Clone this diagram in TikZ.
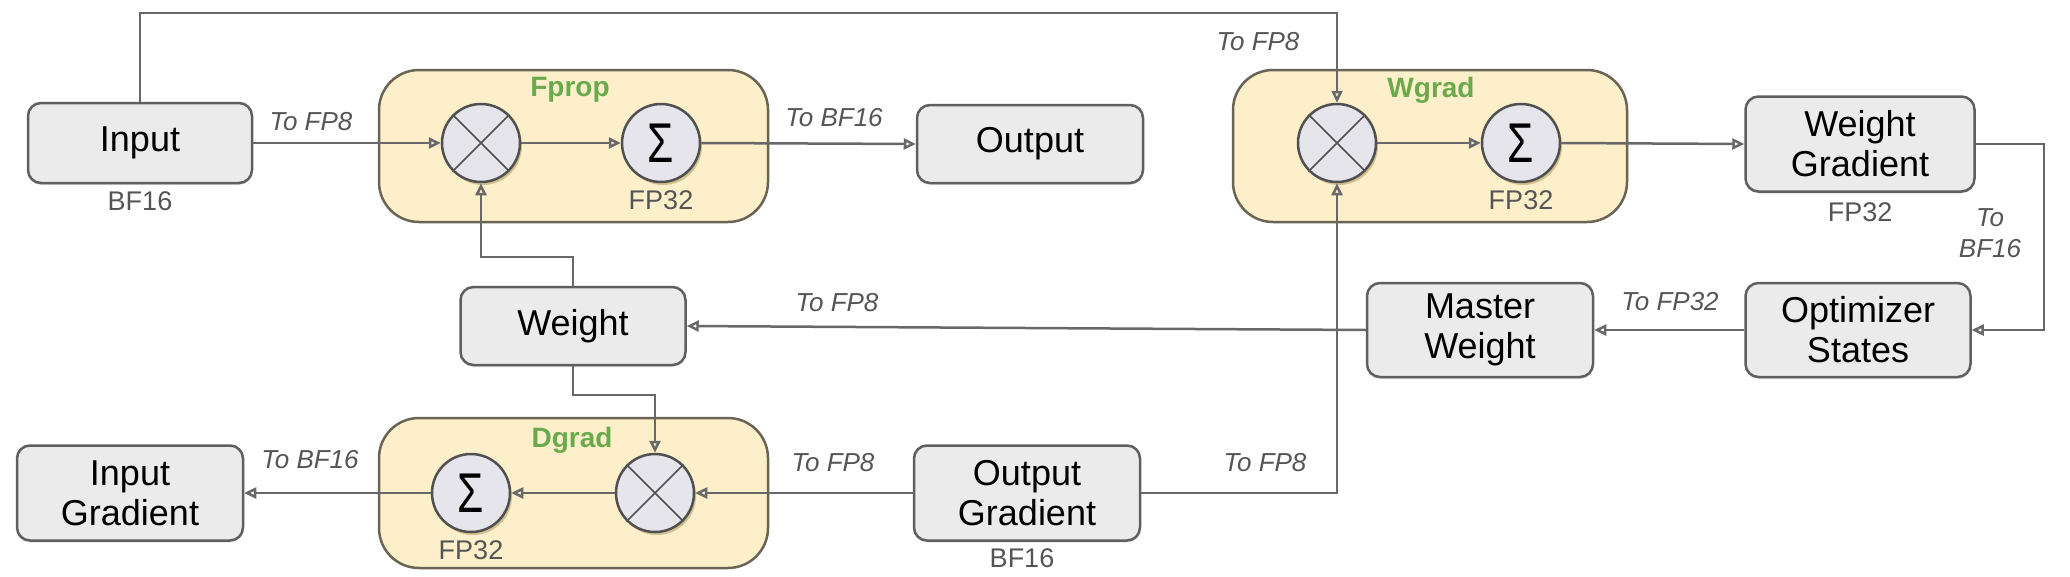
\documentclass[tikz,border=0pt]{standalone}
\usepackage{fontspec}
\setmainfont{Liberation Sans}
\usetikzlibrary{arrows.meta,shadows,backgrounds,calc}
\definecolor{linec}{HTML}{686868}
\definecolor{boxb}{HTML}{5F5F5F}
\definecolor{boxf}{HTML}{EBEBEB}
\definecolor{grpb}{HTML}{6A6455}
\definecolor{grpf}{HTML}{FCEFCA}
\definecolor{opb}{HTML}{505050}
\definecolor{opf}{HTML}{E5E5EB}
\definecolor{labc}{HTML}{555555}
\definecolor{grn}{HTML}{6AAA4C}
\definecolor{shc}{HTML}{B09A62}
\newcommand{\sumsym}{\fontsize{50}{50}\selectfont\scalebox{0.85}[1.12]{Σ}}
\begin{document}
\begin{tikzpicture}[x=1pt,y=-1pt,
  box/.style={draw=boxb, fill=boxf, line width=2.5pt, rounded corners=13pt, minimum width=226pt, inner sep=0pt, align=center, font=\fontsize{36}{40}\selectfont, text=black, drop shadow={opacity=0.25, shadow xshift=0pt, shadow yshift=-2pt}},
  grp/.style={draw=grpb, fill=grpf, line width=2.5pt, rounded corners=40pt, inner sep=0pt},
  op/.style={circle, draw=opb, fill=opf, line width=2.5pt, minimum size=78pt, inner sep=0pt, drop shadow={fill=shc, opacity=0.55, shadow xshift=2pt, shadow yshift=-3pt}},
  arr/.style={draw=linec, line width=2.5pt, -{Triangle[open,length=12pt,width=11pt]}},
  lab/.style={font=\fontsize{26}{30}\selectfont\itshape, text=labc, inner sep=0pt, align=center},
  prec/.style={font=\fontsize{27}{30}\selectfont, text=labc, inner sep=0pt},
  grpname/.style={font=\fontsize{28}{30}\selectfont\bfseries, text=grn, inner sep=0pt}]
\useasboundingbox[fill=white] (0,0) rectangle (2070,576);

% group boxes
\node[grp, minimum width=389pt, minimum height=152pt] (fprop) at (573.5,146) {};
\node[grp, minimum width=394pt, minimum height=152pt] (wgrad) at (1430,146) {};
\node[grp, minimum width=389pt, minimum height=150pt] (dgrad) at (573.5,493) {};
\node[grpname] (fpropl) at (570,90) {Fprop};
\node[grpname] (wgradl) at (1431,90) {Wgrad};
\node[grpname] (dgradl) at (572,440) {Dgrad};

% operators
\node[op] (fmul) at (481,143) {};
\node[op] (fsum) at (661,143) {\sumsym};
\node[op] (wmul) at (1337,143) {};
\node[op] (wsum) at (1521,143) {\sumsym};
\node[op] (dmul) at (655,493) {};
\node[op] (dsum) at (471,493) {\sumsym};
\foreach \m in {fmul,wmul,dmul}{
  \draw[opb, line width=1.5pt] (\m.45) -- (\m.225) (\m.135) -- (\m.315);
}

% boxes
\node[box, minimum width=224pt, minimum height=80pt] (input) at (140,143) {Input};
\node[box, minimum height=78pt] (output) at (1030,144) {Output};
\node[box, minimum width=229pt, minimum height=95pt] (wgradient) at (1860,144) {Weight\\Gradient};
\node[box, minimum width=225pt, minimum height=78pt] (weight) at (573,326) {Weight};
\node[box, minimum height=94pt] (master) at (1480,330) {Master\\Weight};
\node[box, minimum width=225pt, minimum height=94pt] (optim) at (1858,330) {Optimizer\\States};
\node[box, minimum height=95pt] (ingrad) at (130,493) {Input\\Gradient};
\node[box, minimum height=95pt] (outgrad) at (1027,493) {Output\\Gradient};

% precision annotations
\node[prec] (p1) at (140,201) {BF16};
\node[prec] (p2) at (661,200) {FP32};
\node[prec] (p3) at (1521,200) {FP32};
\node[prec] (p4) at (1860,212) {FP32};
\node[prec] (p5) at (471,550) {FP32};
\node[prec] (p6) at (1022,558) {BF16};

% connectors
\coordinate (tl) at (141,13);
\coordinate (wj1) at (0,257);
\coordinate (wj2) at (0,395);
\coordinate (rc) at (2044,0);
\draw[arr] (input.north) -- (input.north |- tl) -| (wmul.north);
\draw[arr] (input.east) -- (fmul.west);
\draw[arr] (fmul.east) -- (fsum.west);
\draw[arr] (fsum.east) -- (output.west);
\draw[arr] (weight.north) -- (weight.north |- wj1) -| (fmul.south);
\draw[arr] (weight.south) -- (weight.south |- wj2) -| (dmul.north);
\draw[arr] (wmul.east) -- (wsum.west);
\draw[arr] (wsum.east) -- (wgradient.west);
\draw[arr] (wgradient.east) -- (rc |- wgradient.east) |- (optim.east);
\draw[arr] (optim.west) -- (master.east);
\draw[arr] (master.west) -- (weight.east);
\draw[arr] (outgrad.east) -| (wmul.south);
\draw[arr] (outgrad.west) -- (dmul.east);
\draw[arr] (dmul.west) -- (dsum.east);
\draw[arr] (dsum.west) -- (ingrad.east);

% conversion labels
\node[lab] (l1) at (311,122) {To FP8};
\node[lab] (l2) at (834,118) {To BF16};
\node[lab] (l3) at (1258,42) {To FP8};
\node[lab] (l4) at (837,303) {To FP8};
\node[lab] (l5) at (1670,302) {To FP32};
\node[lab] (l6) at (1990,233) {To\\[1pt]BF16};
\node[lab] (l7) at (310,460) {To BF16};
\node[lab] (l8) at (833,463) {To FP8};
\node[lab] (l9) at (1265,463) {To FP8};
\end{tikzpicture}
\end{document}
